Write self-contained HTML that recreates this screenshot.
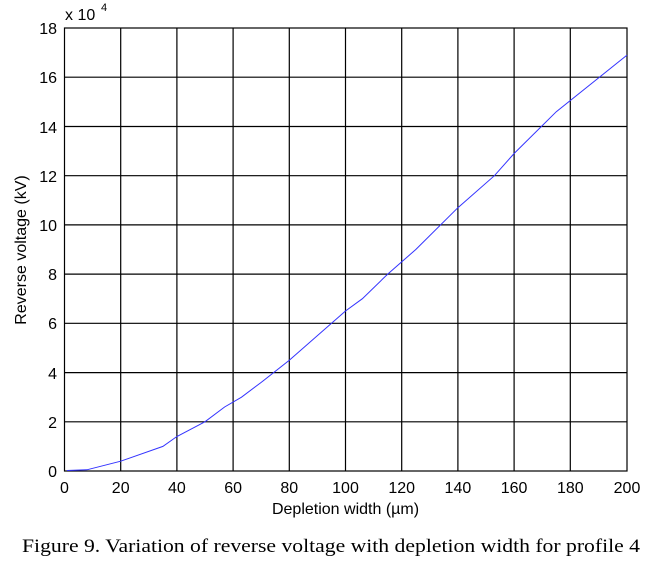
<!DOCTYPE html><html><head><style>body{margin:0;background:#fff}svg text{font-family:"Liberation Sans",sans-serif;font-size:16px}</style></head><body>
<svg width="661" height="566" xmlns="http://www.w3.org/2000/svg">
<g stroke="#000" stroke-width="1.2" fill="none">
<rect x="64.5" y="28" width="562.5" height="443"/>
<path d="M120.7 28V471M176.9 28V471M233.1 28V471M289.3 28V471M345.5 28V471M401.7 28V471M457.9 28V471M514.1 28V471M570.3 28V471M64.5 421.8H627M64.5 372.6H627M64.5 323.3H627M64.5 274.1H627M64.5 224.9H627M64.5 175.7H627M64.5 126.5H627M64.5 77.2H627"/>
</g>
<polyline fill="none" stroke="#3333ff" stroke-width="1" points="67,470.5 86.9,469.8 120.7,461.2 162.9,446.4 176.9,436.5 204.9,421.8 224.6,407 241.5,397.2 261.2,382.4 289.3,360.3 345.5,311 362.4,298.7 387.7,274.1 415.8,249.5 457.9,207.7 494.4,175.7 514.1,153.5 556.3,111.7 627,55.1"/>
<g text-anchor="end">
<text x="57" y="477">0</text><text x="57" y="428">2</text><text x="57" y="379">4</text><text x="57" y="329">6</text><text x="57" y="280">8</text><text x="57" y="231">10</text><text x="57" y="182">12</text><text x="57" y="133">14</text><text x="57" y="83">16</text><text x="57" y="34">18</text>
</g>
<g text-anchor="middle">
<text x="64.5" y="493">0</text><text x="120.7" y="493">20</text><text x="176.9" y="493">40</text><text x="233.1" y="493">60</text><text x="289.3" y="493">80</text><text x="345.5" y="493">100</text><text x="401.7" y="493">120</text><text x="457.9" y="493">140</text><text x="514.1" y="493">160</text><text x="570.3" y="493">180</text><text x="627" y="493">200</text>
<text x="345.5" y="514">Depletion width (µm)</text>
<text transform="translate(26,250) rotate(-90)">Reverse voltage (kV)</text>
</g>
<text x="22" y="552" textLength="618" lengthAdjust="spacingAndGlyphs" style="font-family:'Liberation Serif',serif;font-size:19px">Figure 9. Variation of reverse voltage with depletion width for profile 4</text>
<text x="65" y="20">x 10</text><text x="101" y="11" style="font-size:11px">4</text>
</svg></body></html>
